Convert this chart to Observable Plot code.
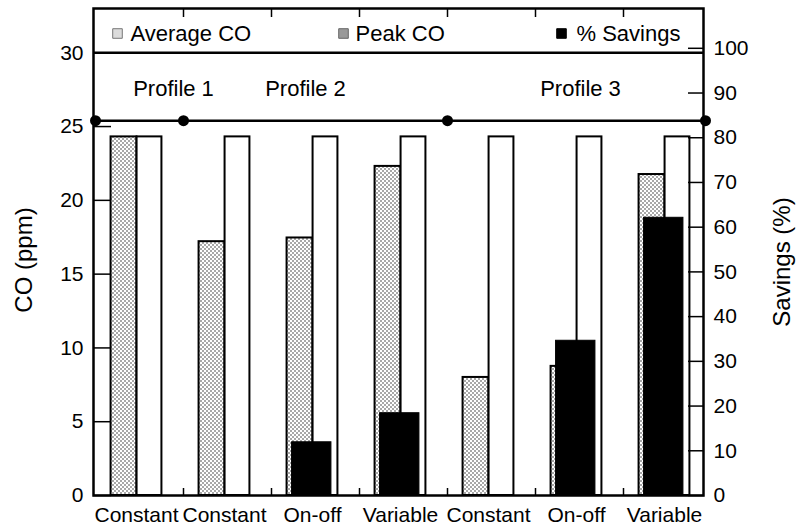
<!DOCTYPE html>
<html>
<head>
<meta charset="utf-8">
<script src="https://cdn.jsdelivr.net/npm/d3@7"></script>
<script src="https://cdn.jsdelivr.net/npm/@observablehq/plot@0.6"></script>
<style>
  html, body { margin: 0; padding: 0; background: #fff; }
  #chart { width: 799px; height: 529px; }
</style>
</head>
<body>
<div id="chart"></div>
<script>
// ---- data ----
const categories = ["Constant", "Constant", "On-off", "Variable", "Constant", "On-off", "Variable"];
const averageCO = [24.3, 17.2, 17.45, 22.3, 8.0, 8.75, 21.75];
const peakCO = [24.3, 24.3, 24.3, 24.3, 24.3, 24.3, 24.3];
const savingsPct = [null, null, 11.9, 18.4, null, 34.6, 62.1];
const profileNames = ["Profile 1", "Profile 2", "Profile 3"];
const profileStart = [0, 1, 4];     // first group of each profile
const profileLast = [6];            // last group of the last profile
const profileDividerCO = 25.4;      // level of the profile divider line
const coTicks = [0, 5, 10, 15, 20, 25, 30];
const savingsTicks = [0, 10, 20, 30, 40, 50, 60, 70, 80, 90, 100];
const legendLabels = ["Average CO", "Peak CO", "% Savings"];
const pctPerPpm = 3.3;              // right axis % per left axis ppm

// ---- layout / style ----
const W = 799, H = 529, ML = 93, MR = 96, MT = 8, MB = 34;
const FONT = "'Liberation Sans', Arial, Helvetica, sans-serif";
const ids = categories.map((_, i) => i);
const rows = ids.map(i => ({id: i, avg: averageCO[i], peak: peakCO[i], sav: savingsPct[i]}));
const half = (708 - 91) / 7 / 2;

const legendSwatch = [
  {fill: "#dcdcdc", stroke: "#777"},
  {fill: "#9a9a9a", stroke: "#666"},
  {fill: "#000", stroke: "#000"}
];
const legendSwatchDx = [24, 250, 468];
const legendTextDx = [37, 262, 483];
const profileAnchor = [0, 2, 5];
const profileDx = [37, -7, 4];

const marks = [
  // bars
  Plot.barY(rows, {x: "id", y: "avg", fill: "url(#dotpat)", stroke: "#000", strokeWidth: 2,
    insetLeft: half - 25.5, insetRight: half - 0.5}),
  Plot.barY(rows, {x: "id", y: "peak", fill: "#fff", stroke: "#000", strokeWidth: 2,
    insetLeft: half + 0.5, insetRight: half - 25.5}),
  Plot.barY(rows.filter(d => d.sav != null), {x: "id", y: d => d.sav / pctPerPpm, fill: "#000", stroke: "#000", strokeWidth: 1,
    insetLeft: half - 20.5, insetRight: half - 19}),
  // legend separator and profile divider
  Plot.ruleY([d3.max(coTicks)], {strokeWidth: 2.5}),
  Plot.ruleY([profileDividerCO], {strokeWidth: 2.5}),
  Plot.dot(profileStart, {x: d => d, y: () => profileDividerCO, dx: -41, r: 5.5, fill: "#000"}),
  Plot.dot(profileLast, {x: d => d, y: () => profileDividerCO, dx: 41, r: 5.5, fill: "#000"}),
  // group separator ticks (top and bottom)
  Plot.ruleX(ids.slice(0, -1), {x: d => d, dx: 47, insetBottom: 478, strokeWidth: 1.5}),
  Plot.ruleX(ids.slice(0, -1), {x: d => d, dx: 47, insetTop: 480, strokeWidth: 1.5}),
  // axes
  Plot.axisY(coTicks, {anchor: "left", tickSize: 0, tickPadding: 10, label: null, fontSize: 21}),
  Plot.axisY(coTicks, {anchor: "left", tickSize: 18, dx: 18, fill: "none", label: null, strokeWidth: 1.5}),
  Plot.axisY(savingsTicks.map(s => s / pctPerPpm), {anchor: "right", tickSize: 0, tickPadding: 10, label: null,
    tickFormat: d => String(Math.round(d * pctPerPpm)), fontSize: 21}),
  Plot.axisY(savingsTicks.map(s => s / pctPerPpm), {anchor: "right", tickSize: 16, dx: -16, fill: "none", label: null, strokeWidth: 1.5}),
  Plot.axisX(ids, {anchor: "bottom", tickSize: 0, tickPadding: 12, label: null,
    tickFormat: i => categories[i], fontSize: 21}),
  // axis titles
  Plot.text(["CO (ppm)"], {text: d => d, frameAnchor: "left", textAnchor: "middle", lineAnchor: "middle",
    rotate: -90, dx: -69, dy: 8, fontSize: 24}),
  Plot.text(["Savings (%)"], {text: d => d, frameAnchor: "right", textAnchor: "middle", lineAnchor: "middle",
    rotate: -90, dx: 79, dy: 10, fontSize: 24}),
  Plot.frame({strokeWidth: 2.5})
];

// legend inside the top band
legendLabels.forEach((lab, k) => {
  marks.push(Plot.dot([lab], {frameAnchor: "top-left", dx: legendSwatchDx[k], dy: 25, symbol: "square", r: 5.4,
    fill: legendSwatch[k].fill, stroke: legendSwatch[k].stroke, strokeWidth: 1}));
  marks.push(Plot.text([lab], {text: d => d, frameAnchor: "top-left", textAnchor: "start", lineAnchor: "middle",
    dx: legendTextDx[k], dy: 25, fontSize: 22}));
});
// profile labels
profileNames.forEach((p, k) => {
  marks.push(Plot.text([p], {x: () => profileAnchor[k], y: () => 27.55, text: d => d, dx: profileDx[k], fontSize: 22}));
});

const chart = Plot.plot({
  width: W, height: H,
  marginLeft: ML, marginRight: MR, marginTop: MT, marginBottom: MB,
  x: {type: "band", domain: ids, range: [91, 708], padding: 0},
  y: {domain: [0, 33]},
  style: {fontFamily: FONT, fontSize: "21px", color: "#000", background: "#fff", overflow: "visible"},
  marks
});

// stipple pattern for the average bars
const ns = "http://www.w3.org/2000/svg";
const defs = document.createElementNS(ns, "defs");
defs.innerHTML = `<pattern id="dotpat" patternUnits="userSpaceOnUse" width="4" height="4">
  <rect width="4" height="4" fill="#ffffff"/>
  <rect x="0" y="0" width="2" height="2" fill="#a8a8a8"/>
  <rect x="2" y="2" width="2" height="2" fill="#a8a8a8"/>
</pattern>`;
chart.insertBefore(defs, chart.firstChild);

document.getElementById("chart").appendChild(chart);
</script>
</body>
</html>
